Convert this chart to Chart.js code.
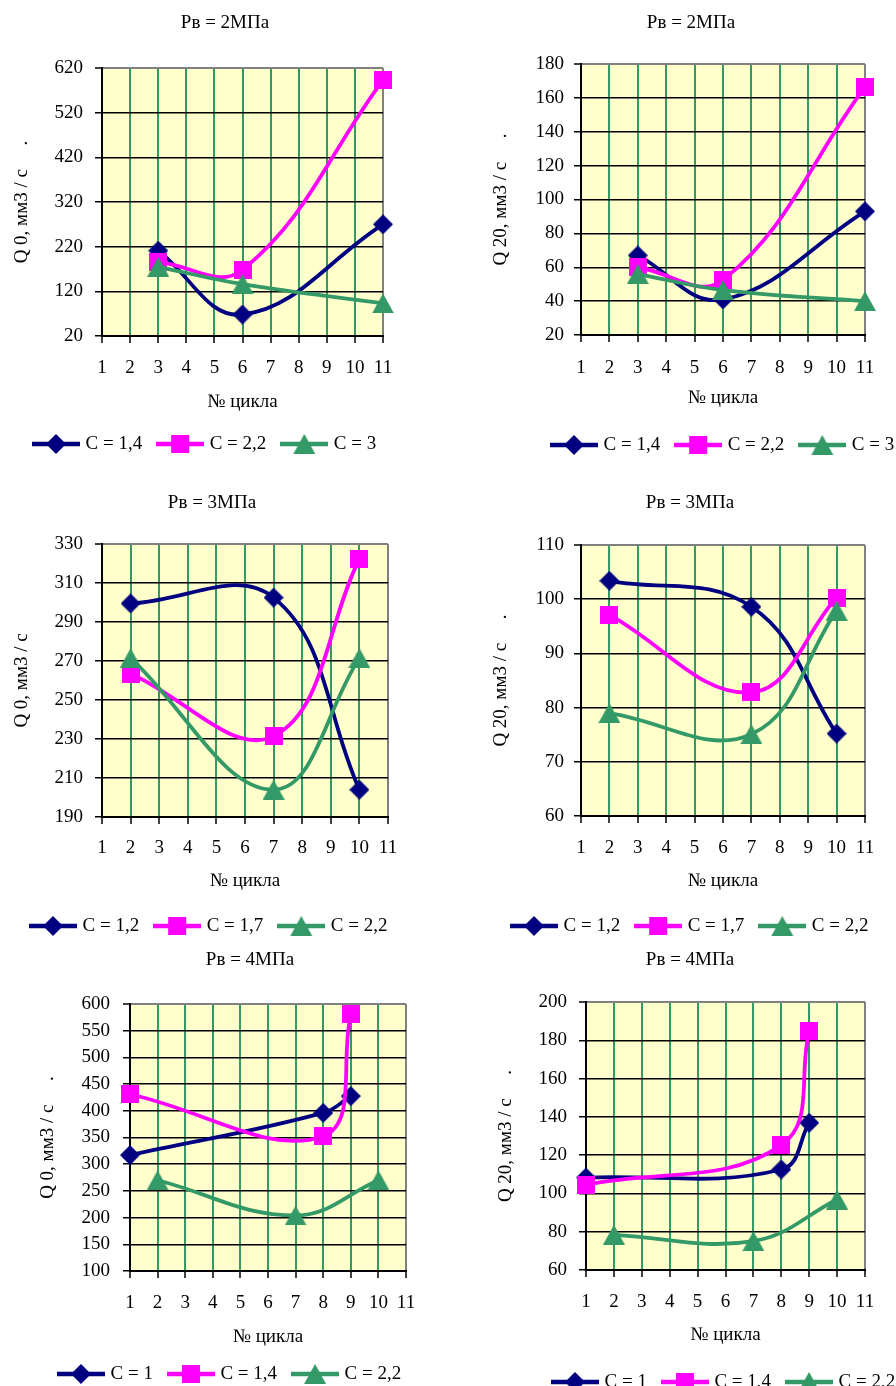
<!DOCTYPE html>
<html>
<head>
<meta charset="utf-8">
<script src="https://cdn.jsdelivr.net/npm/chart.js@4.4.1/dist/chart.umd.min.js"></script>
<style>
html,body{margin:0;padding:0;background:#fff;}
body{width:896px;height:1386px;overflow:hidden;position:relative;}
canvas{position:absolute;}
</style>
</head>
<body>
<script>
// ---------------- DATA ----------------
const chartTitles = ['Рв = 2МПа', 'Рв = 2МПа', 'Рв = 3МПа', 'Рв = 3МПа', 'Рв = 4МПа', 'Рв = 4МПа'];
const yAxisTitles = ['Q 0, мм3 / с     .', 'Q 20, мм3 / с     .', 'Q 0, мм3 / с', 'Q 20, мм3 / с     .', 'Q 0, мм3 / с     .', 'Q 20, мм3 / с     .'];
const xAxisTitle = '№ цикла';

// y axis ranges: [min, max, step]
const yTicks2MPaQ0 = [20, 620, 100];
const yTicks2MPaQ20 = [20, 180, 20];
const yTicks3MPaQ0 = [190, 330, 20];
const yTicks3MPaQ20 = [60, 110, 10];
const yTicks4MPaQ0 = [100, 600, 50];
const yTicks4MPaQ20 = [60, 200, 20];
const xTicksCycle = [1, 11, 1];

// Pв = 2 МПа
const labels2MPa = ['С = 1,4', 'С = 2,2', 'С = 3'];
const cycles2MPa = [3, 6, 11];
const q0_2MPa_C14 = [211, 68, 270];
const q0_2MPa_C22 = [186, 168, 593];
const q0_2MPa_C3 = [175, 136, 93];
const q20_2MPa_C14 = [67, 41, 93];
const q20_2MPa_C22 = [60, 52.5, 166.5];
const q20_2MPa_C3 = [56, 46.5, 40];

// Pв = 3 МПа
const labels3MPa = ['С = 1,2', 'С = 1,7', 'С = 2,2'];
const cycles3MPa = [2, 7, 10];
const q0_3MPa_C12 = [299.5, 302.5, 204];
const q0_3MPa_C17 = [263.5, 231.5, 322.5];
const q0_3MPa_C22 = [271.5, 204, 271.5];
const q20_3MPa_C12 = [103.4, 98.6, 75.2];
const q20_3MPa_C17 = [97.1, 82.8, 100.3];
const q20_3MPa_C22 = [79, 75.1, 97.9];

// Pв = 4 МПа
const labels4MPa = ['С = 1', 'С = 1,4', 'С = 2,2'];
const cycles4MPa_C1 = [1, 8, 9];
const cycles4MPa_C14 = [1, 8, 9];
const cycles4MPa_C22 = [2, 7, 10];
const q0_4MPa_C1 = [317, 396, 427.5];
const q0_4MPa_C14 = [431, 352.5, 581];
const q0_4MPa_C22 = [270, 204, 270];
const q20_4MPa_C1 = [108.3, 112.5, 136.9];
const q20_4MPa_C14 = [104.5, 125.2, 184.9];
const q20_4MPa_C22 = [78.4, 75.1, 96.8];

// ---------------- STYLE / LAYOUT ----------------
const FONT = "'Liberation Serif','Times New Roman',serif";
const FS = 19;
const LH = FS * 1.2;
const NAVY = '#000080', MAG = '#FF00FF', GRN = '#339966';
Chart.defaults.font.family = FONT;
Chart.defaults.font.size = FS;
Chart.defaults.color = '#000';

function markerImg(kind, color) {
  const c = document.createElement('canvas');
  let w = 20, h = 20;
  if (kind === 'square') { w = 18; h = 18; }
  if (kind === 'triangle') { w = 22; h = 20; }
  c.width = w; c.height = h;
  const g = c.getContext('2d');
  g.fillStyle = color;
  g.beginPath();
  if (kind === 'diamond') { g.moveTo(w/2, 0); g.lineTo(w, h/2); g.lineTo(w/2, h); g.lineTo(0, h/2); }
  else if (kind === 'square') { g.rect(0, 0, w, h); }
  else { g.moveTo(w/2, 0); g.lineTo(w, h); g.lineTo(0, h); }
  g.closePath(); g.fill();
  return c;
}
function legendImg(kind, color) {
  const m = markerImg(kind, color);
  const c = document.createElement('canvas');
  c.width = 48; c.height = 22;
  const g = c.getContext('2d');
  g.strokeStyle = color; g.lineWidth = 4.5;
  g.beginPath(); g.moveTo(0, 11); g.lineTo(48, 11); g.stroke();
  g.drawImage(m, Math.round(24 - m.width/2), Math.round(11 - m.height/2));
  return c;
}
const seriesStyle = [
  {color: NAVY, kind: 'diamond', order: 3},
  {color: MAG, kind: 'square', order: 2},
  {color: GRN, kind: 'triangle', order: 1}
];

function pts(xs, ys) { return xs.map((x, i) => ({x: x, y: ys[i]})); }

const panels = [
  {title: chartTitles[0], yTitle: yAxisTitles[0], y: yTicks2MPaQ0, labels: labels2MPa,
   series: [pts(cycles2MPa, q0_2MPa_C14), pts(cycles2MPa, q0_2MPa_C22), pts(cycles2MPa, q0_2MPa_C3)]},
  {title: chartTitles[1], yTitle: yAxisTitles[1], y: yTicks2MPaQ20, labels: labels2MPa,
   series: [pts(cycles2MPa, q20_2MPa_C14), pts(cycles2MPa, q20_2MPa_C22), pts(cycles2MPa, q20_2MPa_C3)]},
  {title: chartTitles[2], yTitle: yAxisTitles[2], y: yTicks3MPaQ0, labels: labels3MPa,
   series: [pts(cycles3MPa, q0_3MPa_C12), pts(cycles3MPa, q0_3MPa_C17), pts(cycles3MPa, q0_3MPa_C22)]},
  {title: chartTitles[3], yTitle: yAxisTitles[3], y: yTicks3MPaQ20, labels: labels3MPa,
   series: [pts(cycles3MPa, q20_3MPa_C12), pts(cycles3MPa, q20_3MPa_C17), pts(cycles3MPa, q20_3MPa_C22)]},
  {title: chartTitles[4], yTitle: yAxisTitles[4], y: yTicks4MPaQ0, labels: labels4MPa,
   series: [pts(cycles4MPa_C1, q0_4MPa_C1), pts(cycles4MPa_C14, q0_4MPa_C14), pts(cycles4MPa_C22, q0_4MPa_C22)]},
  {title: chartTitles[5], yTitle: yAxisTitles[5], y: yTicks4MPaQ20, labels: labels4MPa,
   series: [pts(cycles4MPa_C1, q20_4MPa_C1), pts(cycles4MPa_C14, q20_4MPa_C14), pts(cycles4MPa_C22, q20_4MPa_C22)]}
];

// page-coordinate geometry of each panel
const geom = [
  {cx:0,   cy:0,   W:448, H:470, L:102, R:383, T:68,   B:336,  tX:225, tY:23,  yTX:22,  xTY:402,  lgX:32,  lgY:444,  yPad:12, xPad:13.6},
  {cx:448, cy:0,   W:560, H:470, L:581, R:865, T:64,   B:335,  tX:691, tY:23,  yTX:501, xTY:398,  lgX:550, lgY:445,  yPad:10, xPad:14.6},
  {cx:0,   cy:470, W:448, H:470, L:102, R:388, T:544,  B:817,  tX:212, tY:503, yTX:22,  xTY:881,  lgX:29,  lgY:926,  yPad:12, xPad:12.6},
  {cx:448, cy:470, W:560, H:470, L:581, R:865, T:545,  B:816,  tX:690, tY:503, yTX:501, xTY:881,  lgX:510, lgY:926,  yPad:10, xPad:13.6},
  {cx:0,   cy:940, W:448, H:446, L:130, R:406, T:1004, B:1271, tX:250, tY:960, yTX:48,  xTY:1337, lgX:57,  lgY:1374, yPad:13, xPad:13.6},
  {cx:448, cy:940, W:560, H:446, L:586, R:865, T:1002, B:1270, tX:690, tY:960, yTX:506, xTY:1335, lgX:551, lgY:1382, yPad:12, xPad:13.6}
];

const LEG_PAD = 18;
const placePlugin = {
  id: 'place',
  beforeDraw(chart) {
    const a = chart.chartArea, ctx = chart.ctx;
    ctx.save();
    ctx.fillStyle = '#FFFFCC';
    ctx.fillRect(a.left, a.top, a.right - a.left, a.bottom - a.top);
    ctx.restore();
  },
  afterLayout(chart, args, o) {
    const t = chart.titleBlock;
    if (t) { t.left = o.tX - 150; t.right = o.tX + 150; t.top = o.tY - LH / 2; t.bottom = t.top + LH; }
    const lg = chart.legend;
    if (lg) { lg.left = o.lgX + 4 - LEG_PAD; lg.right = lg.left + 2000; lg.top = o.lgY - LEG_PAD - FS / 2; lg.bottom = lg.top + 40; }
  }
};

panels.forEach((p, idx) => {
  const g = geom[idx];
  const cv = document.createElement('canvas');
  cv.width = g.W; cv.height = g.H;
  cv.style.left = g.cx + 'px'; cv.style.top = g.cy + 'px';
  cv.style.width = g.W + 'px'; cv.style.height = g.H + 'px';
  document.body.appendChild(cv);

  const pl = 4;
  const yw = g.L - g.cx - pl;
  const pr = g.cx + g.W - g.R;
  const pt = g.T - g.cy - LH;
  const xh = g.H - 20 - (g.B - g.cy);
  const yTitlePadTop = (g.yTX - g.cx) - pl - LH / 2;
  const xTitlePadBottom = (g.H - 20) - LH / 2 - (g.xTY - g.cy);
  const yMin = p.y[0], yMax = p.y[1], yStep = p.y[2];
  const legendImgs = seriesStyle.map(s => legendImg(s.kind, s.color));

  new Chart(cv, {
    type: 'line',
    data: {
      datasets: p.series.map((d, i) => ({
        label: p.labels[i],
        data: d,
        borderColor: seriesStyle[i].color,
        backgroundColor: seriesStyle[i].color,
        borderWidth: 3.8,
        pointStyle: markerImg(seriesStyle[i].kind, seriesStyle[i].color),
        pointRadius: 10,
        tension: 0.4,
        fill: false,
        clip: false,
        order: seriesStyle[i].order
      }))
    },
    options: {
      responsive: false,
      animation: false,
      events: [],
      devicePixelRatio: 1,
      layout: {padding: {left: pl, right: pr, top: pt, bottom: 0}},
      scales: {
        x: {
          type: 'linear', min: xTicksCycle[0], max: xTicksCycle[1],
          ticks: {stepSize: xTicksCycle[2], autoSkip: false, maxRotation: 0, padding: g.xPad, color: '#000', font: {size: FS}},
          grid: {
            color: c => (c.tick && c.tick.value === xTicksCycle[1]) ? '#808080' : (c.tick && c.tick.value === xTicksCycle[0] ? '#000' : GRN),
            lineWidth: 2, tickColor: '#000', tickLength: 7, tickWidth: 1.5
          },
          border: {display: true, color: '#000', width: 2},
          title: {display: true, text: xAxisTitle, color: '#000', font: {size: FS}, padding: {top: 0, bottom: xTitlePadBottom}},
          afterFit: s => { s.height = xh; }
        },
        y: {
          type: 'linear', min: yMin, max: yMax,
          ticks: {stepSize: yStep, autoSkip: false, padding: g.yPad, color: '#000', font: {size: FS}},
          grid: {
            color: c => (c.tick && c.tick.value === yMax) ? '#808080' : '#000',
            lineWidth: c => (c.tick && c.tick.value === yMax) ? 2 : 1.5,
            tickColor: '#000', tickLength: 7, tickWidth: 1.5
          },
          border: {display: true, color: '#000', width: 2},
          title: {display: true, text: p.yTitle, color: '#000', font: {size: FS}, padding: {top: yTitlePadTop, bottom: 0}},
          afterFit: s => { s.width = yw; }
        }
      },
      plugins: {
        title: {display: true, text: p.title, color: '#000', font: {size: FS, weight: 'normal'}, padding: {top: 0, bottom: 0}},
        legend: {
          display: true, position: 'bottom', align: 'start', maxHeight: 20,
          labels: {
            usePointStyle: true, pointStyleWidth: 40, padding: LEG_PAD, color: '#000', font: {size: FS},
            generateLabels: chart => chart.data.datasets.map((ds, i) => ({
              text: ds.label, pointStyle: legendImgs[i], fillStyle: ds.borderColor,
              strokeStyle: ds.borderColor, lineWidth: 0, hidden: false, datasetIndex: i
            }))
          }
        },
        tooltip: {enabled: false},
        place: {tX: g.tX - g.cx, tY: g.tY - g.cy, lgX: g.lgX - g.cx, lgY: g.lgY - g.cy}
      }
    },
    plugins: [placePlugin]
  });
});
</script>
</body>
</html>
